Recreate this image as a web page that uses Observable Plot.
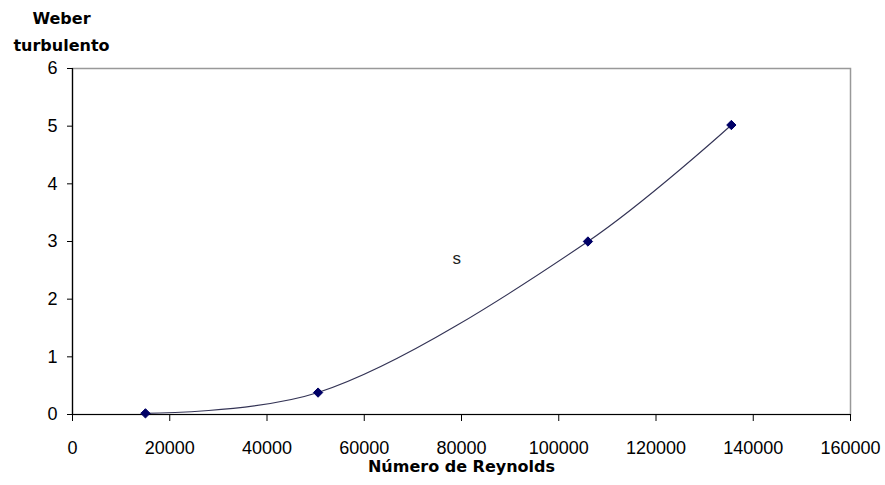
<!DOCTYPE html>
<html>
<head>
<meta charset="utf-8">
<script src="https://cdn.jsdelivr.net/npm/d3@7"></script>
<script src="https://cdn.jsdelivr.net/npm/@observablehq/plot@0.6"></script>
<style>
  html, body { margin: 0; padding: 0; background: #fff; }
  #chart { width: 885px; height: 485px; }
  svg { font-family: "Liberation Sans", Arial, sans-serif; }
</style>
</head>
<body>
<div id="chart"></div>
<script>
const reynolds = [15000, 50500, 106000, 135500];
const weber = [0.02, 0.38, 3.0, 5.02];
const xTicks = [0, 20000, 40000, 60000, 80000, 100000, 120000, 140000, 160000];
const yTicks = [0, 1, 2, 3, 4, 5, 6];
const stray = [{x: 79000, y: 2.7, t: "s"}];
const xTitle = "Número de Reynolds";
const yTitle = "Weber\nturbulento";

const data = reynolds.map((r, i) => ({r, w: weber[i]}));

const navy = "#000066";

const chart = Plot.plot({
  width: 885,
  height: 485,
  marginLeft: 72,
  marginRight: 35,
  marginTop: 68,
  marginBottom: 71,
  style: {fontSize: "18px", fontFamily: "Liberation Sans, Arial, sans-serif", color: "#000", background: "#fff"},
  x: {domain: [0, 160000], ticks: xTicks, tickFormat: d => String(d), label: null},
  y: {domain: [0, 6], ticks: yTicks, tickFormat: d => String(d), label: null},
  marks: [
    Plot.frame({stroke: "#999", strokeWidth: 1.5}),
    Plot.ruleY([0], {stroke: "#000", strokeWidth: 1.2}),
    Plot.ruleX([0], {stroke: "#000", strokeWidth: 1.2}),
    Plot.axisX({ticks: xTicks, tickFormat: d => String(d), tickSize: 7, tickPadding: 20, label: null, style: {letterSpacing: "0.5px"}}),
    Plot.axisY({ticks: yTicks, tickFormat: d => String(d), tickSize: 5, tickPadding: 10, label: null, style: {letterSpacing: "0.5px"}}),
    Plot.line(data, {x: "r", y: "w", curve: "catmull-rom", stroke: "#333355", strokeWidth: 1.1}),
    Plot.dot(data, {x: "r", y: "w", symbol: "diamond2", r: 4.2, fill: navy, stroke: navy, strokeWidth: 1}),
    Plot.text(stray, {x: "x", y: "y", text: "t", fontSize: 17, fill: "#222"}),
    Plot.text([xTitle], {frameAnchor: "bottom", dy: 57, fontSize: 16, fontWeight: "bold", fontFamily: "DejaVu Sans", fill: "#000"}),
    Plot.text([yTitle], {frameAnchor: "top-left", dx: -11, dy: -39.5, lineAnchor: "middle", lineHeight: 1.7, fontSize: 16, fontWeight: "bold", fontFamily: "DejaVu Sans", textAnchor: "middle", fill: "#000"})
  ]
});
document.getElementById("chart").append(chart);
</script>
</body>
</html>
